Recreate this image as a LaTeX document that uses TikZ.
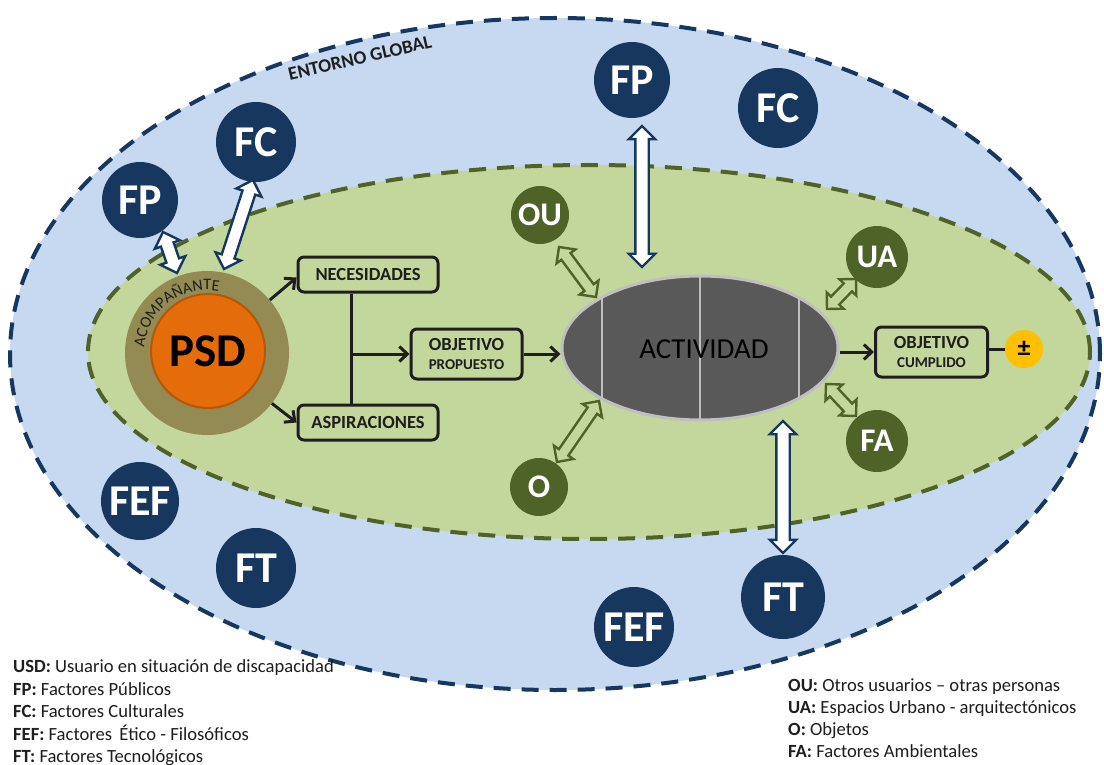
\documentclass[tikz,border=0pt]{standalone}
\usepackage{fontspec}
\setmainfont{Carlito}
\usetikzlibrary{shapes.geometric,shapes.arrows,arrows.meta,decorations.text,calc}

\definecolor{navy}{HTML}{17375E}
\definecolor{skyfill}{HTML}{C6D9F1}
\definecolor{olive}{HTML}{4F6228}
\definecolor{leaf}{HTML}{C3D69B}
\definecolor{khaki}{HTML}{948A54}
\definecolor{pumpkin}{HTML}{E46C0A}
\definecolor{rust}{HTML}{B65708}
\definecolor{slate}{HTML}{595959}
\definecolor{mist}{HTML}{BFBFBF}
\definecolor{gold}{HTML}{FFC000}
\definecolor{ink}{HTML}{1E1E1E}

% hollow two-headed arrow laid between two named points
\newcommand\twoway[4]{%
  \path let \p1=($(#2)-(#1)$), \n1={veclen(\x1,\y1)} in
    (#1) -- (#2) node (#4) [#3, midway, sloped, minimum height=\n1] {};}

\tikzset{
  factor/.style={circle, fill=navy, text=white, inner sep=0pt, minimum size=78pt,
    font=\bfseries\fontsize{44}{44}\selectfont},
  agent/.style={circle, fill=olive, text=white, inner sep=0pt, minimum size=60pt,
    font=\bfseries\fontsize{33}{33}\selectfont},
  stage/.style={draw=ink, line width=3pt, rounded corners=6pt, fill=leaf, text=ink,
    inner sep=0pt, align=center, font=\bfseries\fontsize{18.5}{20}\selectfont},
  flow/.style={draw=ink, line width=3pt, -{Straight Barb[length=8pt,width=15pt]}},
  plain/.style={draw=ink, line width=3pt},
  bluelink/.style={double arrow, draw=navy, fill=white, line width=2.4pt,
    inner xsep=0pt, inner ysep=5.5pt, double arrow head extend=6.5pt, minimum width=0pt,
    outer sep=0pt},
  greenlink/.style={double arrow, draw=olive, line width=2.4pt,
    inner xsep=0pt, inner ysep=4.5pt, double arrow head extend=6pt, minimum width=0pt,
    outer sep=0pt},
  divider/.style={draw=mist, line width=1.5pt},
  legend/.style={anchor=base west, inner sep=0pt, text=ink,
    font=\fontsize{18.6}{22}\selectfont},
}

\begin{document}
\begin{tikzpicture}[x=1pt, y=-1pt]
\useasboundingbox (0,0) rectangle (1104,765);
\fill[white] (0,0) rectangle (1104,765);

% global environment and local setting
\node[ellipse, draw=navy, fill=skyfill, line width=4pt, dash pattern=on 17pt off 11pt,
  minimum width=1090pt, minimum height=672pt, inner sep=0pt] (global) at (555,354) {};
\node[ellipse, draw=olive, fill=leaf, line width=4pt, dash pattern=on 17pt off 11pt,
  minimum width=1002pt, minimum height=374pt, inner sep=0pt] (local) at (589,352) {};
\node[rotate=13, text=ink, font=\bfseries\fontsize{19}{19}\selectfont] (envlabel)
  at (360,58) {ENTORNO GLOBAL};

% person with companion
\node[circle, fill=khaki, minimum size=164pt, inner sep=0pt] (ring) at (207,353) {};
\node[circle, fill=pumpkin, draw=rust, line width=2pt, minimum size=114pt, inner sep=0pt,
  text=black, font=\bfseries\fontsize{47}{47}\selectfont] (psd) at (208,351) {PSD};
\path[decorate, decoration={text along path, text align=center,
    text={|\fontsize{16}{16}\selectfont\color{ink}|ACOMPAÑANTE}}]
  (ring.center) ++(-178:63) arc[start angle=-178, end angle=-76, radius=63];

% needs, aspirations and proposed goal
\node[stage, minimum width=140pt, minimum height=35pt] (needs) at (368,274.5) {NECESIDADES};
\node[stage, minimum width=140pt, minimum height=35pt] (wishes) at (368,422.5) {ASPIRACIONES};
\node[stage, minimum width=111pt, minimum height=50pt] (goal) at (466.5,354)
  {OBJETIVO\\[-1pt]{\fontsize{15}{15}\selectfont PROPUESTO}};
\draw[flow] (ring) -- ([yshift=-3pt]needs.west);
\draw[flow] (ring) -- (wishes.west);
\coordinate (trunktop) at ([xshift=-17pt]needs.south);
\coordinate (trunkbot) at ([xshift=-17pt]wishes.north);
\draw[plain] (trunktop) -- (trunkbot);
\draw[flow] (trunktop |- goal.west) -- (goal.west);

% activity
\node[ellipse, fill=slate, draw=mist, line width=3pt, minimum width=276pt,
  minimum height=144pt, inner sep=0pt] (activity) at (700,348) {};
\begin{scope}
  \clip (activity.center) ellipse [x radius=138, y radius=72];
  \foreach \px in {602,700,799} \draw[divider] (\px,270) -- (\px,430);
\end{scope}
\node[text=black, font=\fontsize{29}{29}\selectfont] (acttext) at (704,349) {ACTIVIDAD};

\node[stage, minimum width=112pt, minimum height=50pt] (done) at (931.5,352)
  {OBJETIVO\\[-1pt]{\fontsize{15}{15}\selectfont CUMPLIDO}};
\node[circle, fill=gold, minimum size=38pt, inner sep=0pt, text=black,
  font=\bfseries\fontsize{26}{26}\selectfont] (pm) at (1024,349) {±};
\draw[flow] (goal.east) -- (goal.east -| activity.west);
\draw[flow] (done.west -| activity.east) -- (done.west);
\draw[plain] (done.east |- pm) -- (pm);

% ends of the two-way links
\coordinate (fpA-a) at (163,232);  \coordinate (fpA-b) at (177,273);
\coordinate (fcA-a) at (253,180);  \coordinate (fcA-b) at (224,269);
\coordinate (fpB-a) at (642,126);  \coordinate (fpB-b) at (642,267);
\coordinate (ftB-a) at (783,421);  \coordinate (ftB-b) at (783,553);
\coordinate (ou-a) at (559,247);   \coordinate (ou-b) at (596,297);
\coordinate (ua-a) at (856,279);   \coordinate (ua-b) at (827,309);
\coordinate (fa-a) at (826,384);   \coordinate (fa-b) at (856,416);
\coordinate (o-a) at (557,462);    \coordinate (o-b) at (599,401);

\twoway{fpA-a}{fpA-b}{bluelink}{linkfpA}
\twoway{fcA-a}{fcA-b}{bluelink}{linkfcA}
\twoway{fpB-a}{fpB-b}{bluelink}{linkfpB}
\twoway{ftB-a}{ftB-b}{bluelink}{linkftB}
\twoway{ou-a}{ou-b}{greenlink}{linkou}
\twoway{ua-a}{ua-b}{greenlink}{linkua}
\twoway{fa-a}{fa-b}{greenlink}{linkfa}
\twoway{o-a}{o-b}{greenlink}{linko}

% factors of the global environment
\node[factor, minimum size=76pt] (fpA) at (140,200) {FP};
\node[factor, minimum size=80pt] (fcA) at (256,142) {FC};
\node[factor, minimum size=76pt] (fpB) at (632,80) {FP};
\node[factor, minimum size=80pt] (fcB) at (778,108) {FC};
\node[factor, minimum size=78pt] (fefA) at (140,501) {FEF};
\node[factor, minimum size=80pt] (ftA) at (256,568) {FT};
\node[factor, minimum size=80pt] (fefB) at (634,627) {FEF};
\node[factor, minimum size=84pt] (ftB) at (783,597) {FT};

% factors of the local setting
\node[agent, minimum size=58pt] (ou) at (540,215) {OU};
\node[agent, minimum size=62pt] (ua) at (877,257) {UA};
\node[agent, minimum size=62pt] (fa) at (877,441) {FA};
\node[agent, minimum size=58pt] (o) at (539,487) {O};

% key
\node[legend] (keyA) at (13,672) {\textbf{USD:} Usuario en situación de discapacidad};
\node[legend] (keyB) at (13,695) {\textbf{FP:} Factores Públicos};
\node[legend] (keyC) at (13,717) {\textbf{FC:} Factores Culturales};
\node[legend] (keyD) at (13,740) {\textbf{FEF:} Factores \,Ético - Filosóficos};
\node[legend] (keyE) at (13,762) {\textbf{FT:} Factores Tecnológicos};
\node[legend] (keyF) at (788,691) {\textbf{OU:} Otros usuarios – otras personas};
\node[legend] (keyG) at (788,713) {\textbf{UA:} Espacios Urbano - arquitectónicos};
\node[legend] (keyH) at (788,735) {\textbf{O:} Objetos};
\node[legend] (keyI) at (788,757) {\textbf{FA:} Factores Ambientales};
\end{tikzpicture}
\end{document}
